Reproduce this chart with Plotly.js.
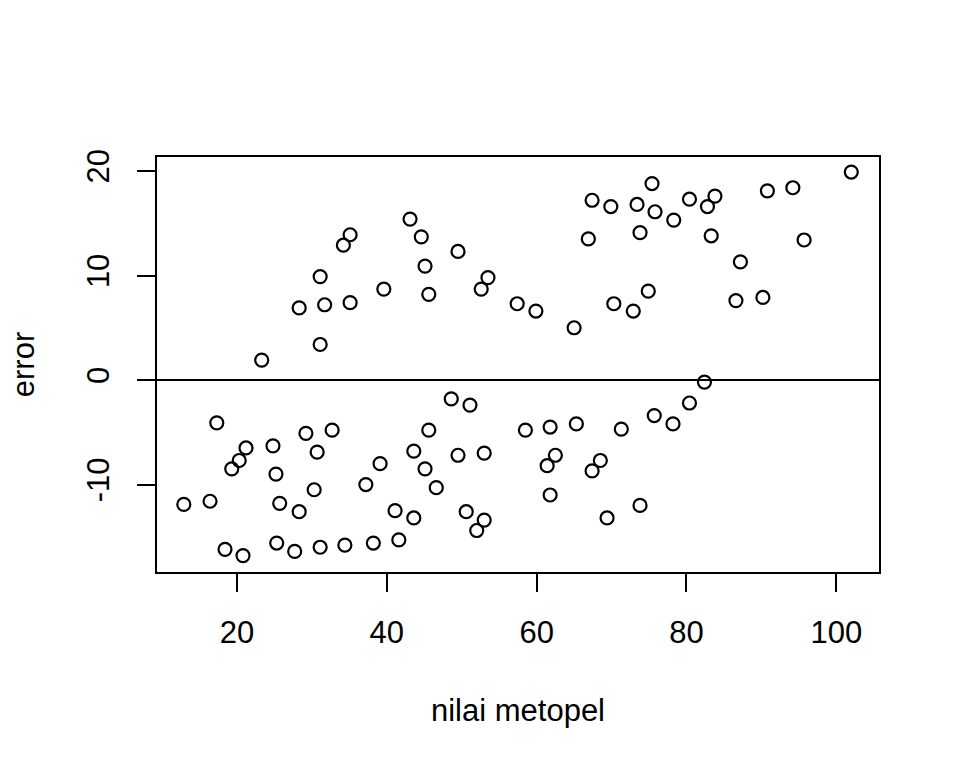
<!DOCTYPE html>
<html>
<head>
<meta charset="utf-8">
<script src="https://cdn.plot.ly/plotly-3.0.1.min.js"></script>
<style>html,body{margin:0;padding:0;background:#fff;}#chart{width:960px;height:768px;}</style>
</head>
<body>
<div id="chart"></div>
<script>
// nilai metopel (x) and error (y)
const nilaiMetopel = [
  23.3, 28.3, 31.1, 31.7, 31.1, 35.1, 34.2, 43.1, 44.6, 49.5, 45.1, 39.6, 45.6, 53.5, 52.6, 35.1, 57.4,
  75.4, 67.4, 69.9, 73.4, 75.8, 78.3, 80.4, 66.9, 73.8, 59.9, 65.0, 70.3, 72.9, 74.9,
  102.0, 83.8, 82.8, 90.8, 94.2, 83.3, 95.7, 87.2, 86.6, 90.2,
  17.3, 21.2, 20.3, 19.3, 24.8, 29.2, 32.7, 30.7, 25.2, 30.3, 12.9, 16.4, 25.7, 28.3, 18.4, 20.8, 25.3, 27.7, 31.1, 34.4,
  48.6, 51.1, 45.6, 43.6, 49.5, 53.0, 39.1, 45.1, 37.2, 46.6, 41.1, 43.6, 50.6, 53.0, 52.0, 38.2, 41.6,
  58.5, 61.8, 65.3, 71.3, 75.7, 78.2, 80.4, 62.5, 61.4, 68.5, 67.4, 61.8, 69.4, 73.8, 82.4
];
const errorVals = [
  1.9, 6.9, 9.9, 7.2, 3.4, 13.9, 12.9, 15.4, 13.7, 12.3, 10.9, 8.7, 8.2, 9.8, 8.7, 7.4, 7.3,
  18.8, 17.2, 16.6, 16.8, 16.1, 15.3, 17.3, 13.5, 14.1, 6.6, 5.0, 7.3, 6.6, 8.5,
  19.9, 17.6, 16.6, 18.1, 18.4, 13.8, 13.4, 11.3, 7.6, 7.9,
  -4.1, -6.5, -7.7, -8.5, -6.3, -5.1, -4.8, -6.9, -9.0, -10.5, -11.9, -11.6, -11.8, -12.6, -16.2, -16.8, -15.6, -16.4, -16.0, -15.8,
  -1.8, -2.4, -4.8, -6.8, -7.2, -7.0, -8.0, -8.5, -10.0, -10.3, -12.5, -13.2, -12.6, -13.4, -14.4, -15.6, -15.3,
  -4.8, -4.5, -4.2, -4.7, -3.4, -4.2, -2.2, -7.2, -8.2, -7.7, -8.7, -11.0, -13.2, -12.0, -0.2
];
const xTicks = [20, 40, 60, 80, 100];
const yTicks = [-10, 0, 10, 20];
const xTitle = "nilai metopel";
const yTitle = "error";

const font = {family: "Liberation Sans, Arial, sans-serif", size: 31, color: "#000"};

const trace = {
  x: nilaiMetopel,
  y: errorVals,
  type: "scatter",
  mode: "markers",
  marker: {symbol: "circle-open", size: 13, color: "#000", line: {color: "#000", width: 2.2}},
  hoverinfo: "x+y"
};

const layout = {
  width: 960, height: 768,
  paper_bgcolor: "#fff", plot_bgcolor: "#fff",
  margin: {l: 157, r: 81, t: 157, b: 196, pad: 0},
  showlegend: false,
  font: font,
  xaxis: {
    range: [9.32, 105.7],
    tickvals: xTicks, ticktext: xTicks.map(String),
    ticks: "outside", ticklen: 18, tickwidth: 2, tickcolor: "#000",
    ticklabelstandoff: 14,
    showgrid: false, zeroline: false,
    showline: true, mirror: true, linecolor: "#000", linewidth: 2,
    tickfont: font,
    title: {text: xTitle, font: font, standoff: 50},
    automargin: false
  },
  yaxis: {
    range: [-18.37, 21.34],
    tickvals: yTicks, ticktext: yTicks.map(String),
    tickangle: -90,
    ticks: "outside", ticklen: 18, tickwidth: 2, tickcolor: "#000",
    ticklabelstandoff: 16,
    showgrid: false,
    zeroline: true, zerolinecolor: "#000", zerolinewidth: 2,
    showline: true, mirror: true, linecolor: "#000", linewidth: 2,
    tickfont: font,
    title: {text: yTitle, font: font, standoff: 37},
    automargin: false
  }
};

Plotly.newPlot("chart", [trace], layout, {displayModeBar: false, staticPlot: true});
</script>
</body>
</html>
